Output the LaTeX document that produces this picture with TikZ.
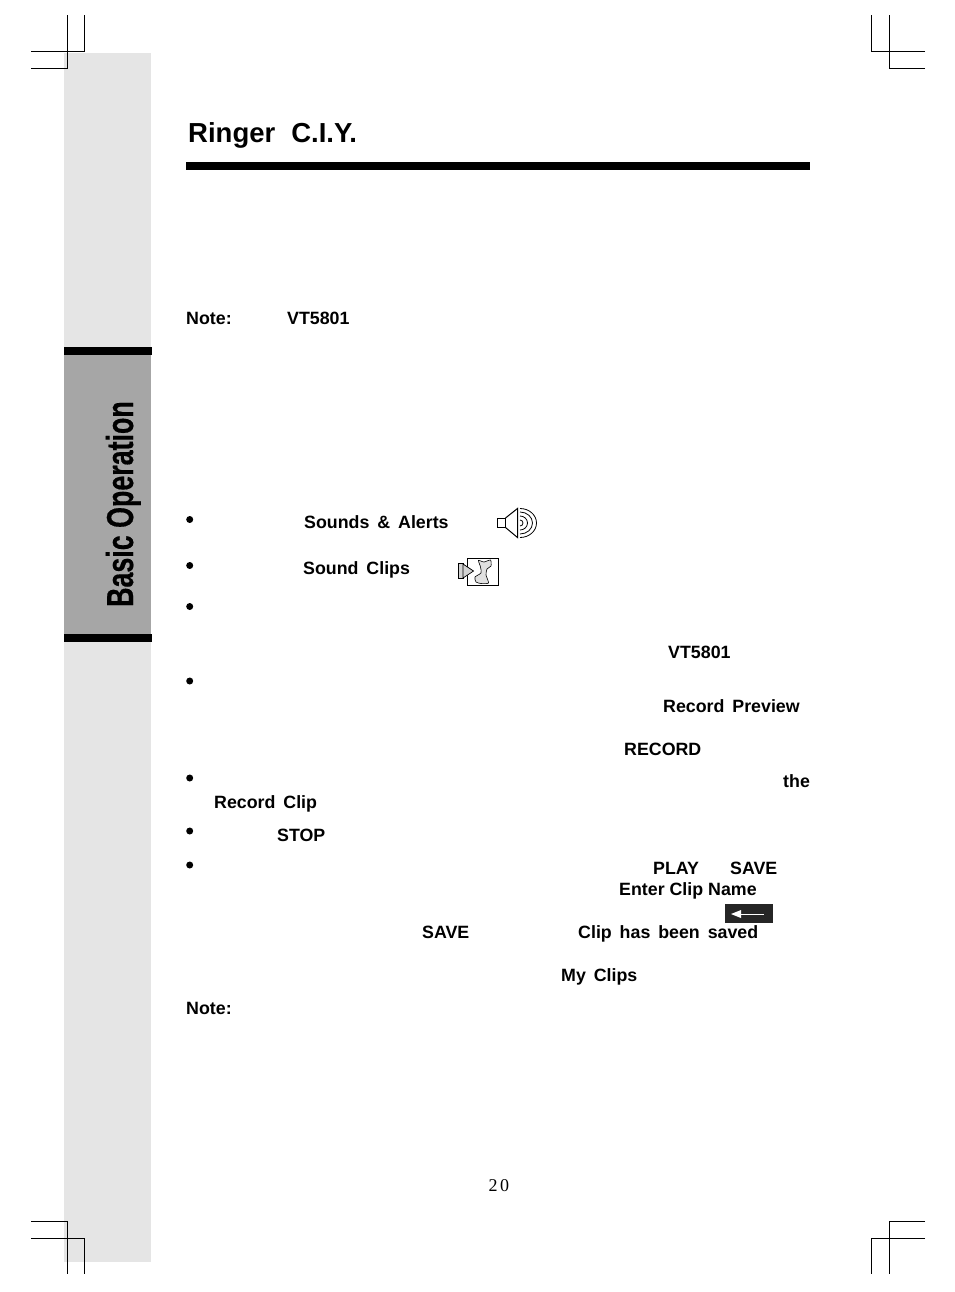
\documentclass[tikz,border=0pt]{standalone}
\usepackage{fontspec}
\setmainfont{Liberation Sans}[WordSpace=1.6]
\newfontfamily\plainfont{Liberation Sans}
\newfontfamily\tabfont{Liberation Sans}[BoldFeatures={FakeBold=0.5}]
\newfontfamily\pagefont{Liberation Serif}
\usetikzlibrary{positioning}
\definecolor{pagegray}{HTML}{E5E5E5}
\definecolor{tabgray}{HTML}{A6A6A6}
\tikzset{
	word/.style={anchor=base west, inner sep=0pt, font=\fontsize{17.8}{20}\selectfont\bfseries},
	dot/.style={circle, fill=black, inner sep=0pt, minimum size=7pt},
	crop/.style={line width=1.1pt}
}

\begin{document}
\begin{tikzpicture}[x=1pt, y=-1pt]
	\useasboundingbox (0, 0) rectangle (954, 1292);

	% side strip
	\fill[pagegray] (64, 53) rectangle (151, 1262);
	\fill[tabgray] (64, 355) rectangle (151, 634);
	\fill[black] (64, 347) rectangle (152, 355);
	\fill[black] (64, 634) rectangle (152, 642);
	\node[rotate=90, anchor=base west, inner sep=0pt, xscale=0.715, font=\tabfont\fontsize{37.5}{40}\selectfont\bfseries] (tab) at (133, 607) {Basic Operation};

	% crop marks
	\draw[crop] (31, 51.5) -- (84.3, 51.5) -- (84.3, 15);
	\draw[crop] (31, 68.3) -- (67.3, 68.3) -- (67.3, 15);
	\draw[crop] (925, 51.5) -- (871.3, 51.5) -- (871.3, 15);
	\draw[crop] (925, 68.3) -- (889.3, 68.3) -- (889.3, 15);
	\draw[crop] (31, 1238.3) -- (84.3, 1238.3) -- (84.3, 1274);
	\draw[crop] (31, 1221.3) -- (67.3, 1221.3) -- (67.3, 1274);
	\draw[crop] (925, 1238.3) -- (871.3, 1238.3) -- (871.3, 1274);
	\draw[crop] (925, 1221.3) -- (889.3, 1221.3) -- (889.3, 1274);

	% heading
	\node[word, font=\plainfont\fontsize{27.5}{30}\selectfont\bfseries] (title) at (188, 143) {Ringer\hspace{16pt}C.I.Y.};
	\fill[black] (186, 162) rectangle (810, 170);

	% bold words
	\node[word] (noteone) at (186, 324) {Note:};
	\node[word] (modelone) at (287, 324) {VT5801};
	\node[word] (sounds) at (304, 528) {Sounds \& Alerts};
	\node[word] (clips) at (303, 574) {Sound Clips};
	\node[word] (modeltwo) at (668, 658) {VT5801};
	\node[word] (preview) at (663, 712) {Record Preview};
	\node[word] (record) at (624, 755) {RECORD};
	\node[word] (the) at (783, 787) {the};
	\node[word] (recordclip) at (214, 808) {Record Clip};
	\node[word] (stop) at (277, 841) {STOP};
	\node[word] (play) at (653, 874) {PLAY};
	\node[word] (saveone) at (730, 874) {SAVE};
	\node[word, font=\plainfont\fontsize{17.8}{20}\selectfont\bfseries] (entername) at (619, 895) {Enter Clip Name};
	\node[word] (savetwo) at (422, 938) {SAVE};
	\node[word] (saved) at (578, 938) {Clip has been saved};
	\node[word] (myclips) at (561, 981) {My Clips};
	\node[word] (notetwo) at (186, 1014) {Note:};

	% bullets
	\foreach \y in {519.5, 565.5, 606.5, 681, 778, 831, 865}
		\node[dot] at (189.7, \y) {};

	% speaker icon
	\draw[line width=1pt, fill=white] (497.5, 518) rectangle (505.5, 527.5);
	\draw[line width=1pt] (505.5, 518) -- (517.5, 508.5) -- (517.5, 537.5) -- (505.5, 527.5);
	\draw[line width=0.8pt] (520, 508.5) arc (-90:90:16.5 and 14.5);
	\draw[line width=0.8pt] (520, 512) arc (-90:90:12.5 and 11);
	\draw[line width=0.8pt] (520, 516) arc (-90:90:7.5 and 7);
	\draw[line width=0.8pt] (520, 520) arc (-90:90:3 and 3);

	% clip icon
	\draw[line width=0.9pt, fill=white] (467.5, 558) rectangle (498.5, 585.5);
	\draw[line width=0.7pt, fill=tabgray!50] (458.5, 563.5) rectangle (463, 578);
	\draw[line width=0.7pt, fill=tabgray!50] (463, 564) -- (473.5, 571) -- (463, 578) -- cycle;
	\draw[line width=0.6pt, fill=tabgray!35] plot[smooth cycle, tension=0.4] coordinates {(478.5, 560.5) (484, 562) (490.5, 560) (491, 566) (487, 569) (486, 575) (488.5, 583) (481, 583.5) (476, 582) (475, 577) (481, 573) (480.5, 567)};

	% back arrow key
	\fill[black!85] (725, 904) rectangle (773, 923);
	\draw[white, line width=0.9pt] (740, 914) -- (764, 914);
	\fill[white] (731, 914) -- (741, 910) -- (741, 918) -- cycle;

	% page number
	\node[anchor=base west, inner sep=0pt, font=\pagefont\fontsize{18}{20}\selectfont] (number) at (488.5, 1191) {2\kern2.5pt0};
\end{tikzpicture}
\end{document}
